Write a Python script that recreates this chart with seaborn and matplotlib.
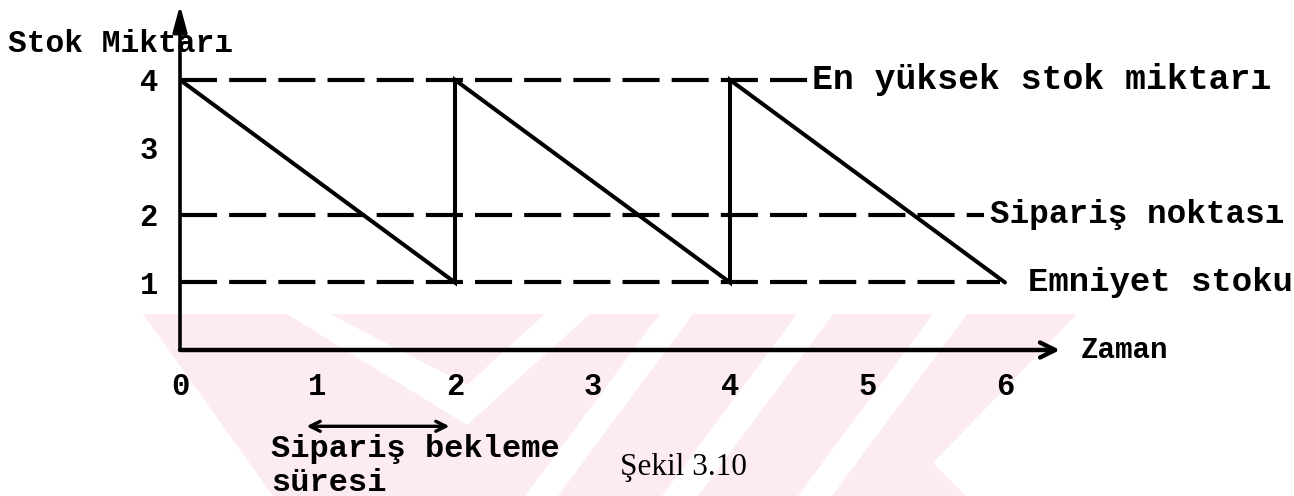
import matplotlib
matplotlib.use("Agg")
import matplotlib.pyplot as plt
import seaborn as sns
import pandas as pd
from matplotlib.patches import Polygon

# ---- data ----
time = [0, 2, 2, 4, 4, 6]
stock = [4, 1, 4, 1, 4, 1]
level_values = [4, 2, 1]
level_labels = ["En yüksek stok miktarı", "Sipariş noktası", "Emniyet stoku"]
level_ends = [4.58, 5.85, 5.96]
x_ticks = [0, 1, 2, 3, 4, 5, 6]
y_ticks = [1, 2, 3, 4]
y_label = "Stok Miktarı"
x_label = "Zaman"
lead_start, lead_end = 0.92, 1.96
lead_label = "Sipariş bekleme\nsüresi"
caption = "Şekil 3.10"

# ---- layout ----
label_x = [4.60, 5.89, 6.17]
label_size = [25, 23.5, 24.5]

sns.set_theme(style="white")
mono = ["Liberation Mono", "DejaVu Sans Mono"]
plt.rcParams["font.family"] = mono
plt.rcParams["text.color"] = "black"
plt.rcParams["xtick.color"] = "black"
plt.rcParams["ytick.color"] = "black"

W, H = 1294, 496
fig = plt.figure(figsize=(W / 100, H / 100), dpi=100)
fig.patch.set_facecolor("white")


def fp(pts):
    return [(x / W, 1 - y / H) for x, y in pts]


pink = "#fdecef"
wm = [
    ([(143, 314), (1077, 314), (933, 463), (966, 496), (273, 496)], pink),
    ([(287, 314), (467, 425), (590, 314), (545, 314), (467, 385), (330, 314)], "white"),
    ([(660, 314), (693, 314), (558, 496), (525, 496)], "white"),
    ([(797, 314), (833, 314), (698, 496), (662, 496)], "white"),
    ([(933, 314), (967, 314), (832, 496), (798, 496)], "white"),
]
for pts, c in wm:
    fig.patches.append(Polygon(fp(pts), closed=True, transform=fig.transFigure,
                               facecolor=c, edgecolor="none", zorder=-5))

ax = fig.add_axes([180 / W, (H - 350) / H, (1060 - 180) / W, (350 - 5) / H])
ax.set_facecolor("none")
ax.set_xlim(0, 6.4)
ax.set_ylim(0, 5.11)
for s in ax.spines.values():
    s.set_visible(False)

df = pd.DataFrame({"Zaman": time, "Stok": stock})
sns.lineplot(data=df, x="Zaman", y="Stok", sort=False, color="black", lw=2.9, ax=ax,
             estimator=None, solid_joinstyle="miter")

for lv, end in zip(level_values, level_ends):
    ax.hlines(lv, 0, end, colors="black", lw=3.0, linestyles=(0, (8.9, 2.9)))

for lv, lx, lab, fs in zip(level_values, label_x, level_labels, label_size):
    ax.text(lx, lv, lab, fontsize=fs, fontweight="bold", va="center", ha="left",
            color="black")

# axes arrows
ax.annotate("", xy=(6.4, 0), xytext=(0, 0), annotation_clip=False,
            arrowprops=dict(arrowstyle="->,head_length=0.9,head_width=0.45", lw=3.2,
                            color="black", shrinkA=0, shrinkB=0))
ax.annotate("", xy=(0, 5.11), xytext=(0, 0), annotation_clip=False,
            arrowprops=dict(arrowstyle="-|>,head_length=1.3,head_width=0.35", lw=2.6,
                            color="black", shrinkA=0, shrinkB=0))

ax.set_xticks(x_ticks)
ax.set_xticklabels([str(v) for v in x_ticks], fontsize=22, fontweight="bold")
ax.set_yticks(y_ticks)
ax.set_yticklabels([str(v) for v in y_ticks], fontsize=22, fontweight="bold")
ax.tick_params(axis="x", length=0, pad=16, labelcolor="black")
ax.tick_params(axis="y", length=0, pad=16, labelcolor="black")
ax.set_xlabel("")
ax.set_ylabel("")

ax.text(6.55, 0, x_label, fontsize=21, fontweight="bold", va="center", ha="left",
        color="black")
fig.text(8 / W, 1 - 44 / H, y_label, fontsize=22.5, fontweight="bold", va="center",
         ha="left", color="black")

# lead time arrow
ax.annotate("", xy=(lead_end, -1.13), xytext=(lead_start, -1.13), annotation_clip=False,
            arrowprops=dict(arrowstyle="<->,head_length=0.6,head_width=0.3", lw=2.4,
                            color="black", shrinkA=0, shrinkB=0))
fig.text(271 / W, 1 - 466 / H, lead_label, fontsize=23, fontweight="bold", va="center",
         ha="left", linespacing=1.15, color="black")

fig.text(620 / W, 1 - 467 / H, caption, fontsize=22.5, family="Liberation Serif",
         va="center", ha="left", color="black")

fig.savefig("out.png", dpi=100)
